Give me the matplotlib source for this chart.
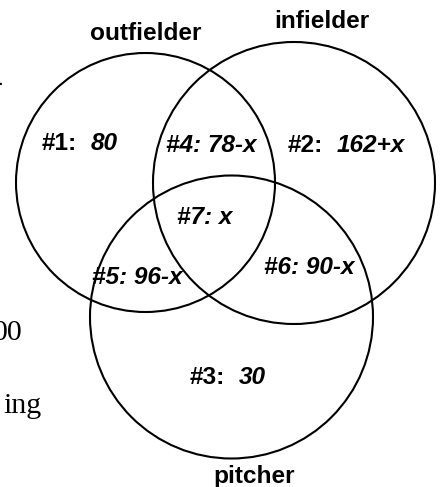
import matplotlib
matplotlib.use("Agg")
import matplotlib.pyplot as plt
from matplotlib.patches import Circle
from matplotlib.offsetbox import TextArea, HPacker, AnnotationBbox

plt.rcParams['font.family'] = ['Liberation Sans', 'DejaVu Sans']

# sets and regions of the diagram
set_names = ['outfielder', 'infielder', 'pitcher']
region_ids = ['#1:', '#2:', '#3:', '#4:', '#5:', '#6:', '#7:']
region_values = ['80', '162+x', '30', '78-x', '96-x', '90-x', 'x']
upright_ids = [True, True, True, False, False, False, False]

# layout in pixels (image coords, y downward)
W, H = 440, 487
circ_xy = [(145.5, 182.5), (294, 183), (231.5, 317)]
circ_r = [129.5, 141, 141.5]
name_xy = [(146, 34), (322, 22), (254, 476)]
region_xy = [(80, 143), (346, 145), (227.5, 377), (211, 145),
             (137.5, 278), (309, 267), (205, 218)]
fs = 17.6

fig = plt.figure(figsize=(W / 100, H / 100), dpi=100)
ax = fig.add_axes([0, 0, 1, 1])
ax.set_xlim(0, W)
ax.set_ylim(H, 0)
ax.axis('off')

for (cx, cy), r in zip(circ_xy, circ_r):
    ax.add_patch(Circle((cx, cy), r, fill=False, lw=1.5, ec='black'))

for name, (x, y) in zip(set_names, name_xy):
    ax.text(x, y, name, ha='center', va='center', fontsize=fs, fontweight='bold')

for rid, val, up, (x, y) in zip(region_ids, region_values, upright_ids, region_xy):
    if up:
        parts = [TextArea(rid, textprops=dict(fontsize=fs, fontweight='bold')),
                 TextArea(val, textprops=dict(fontsize=fs, fontweight='bold', style='italic'))]
        box = HPacker(children=parts, align='baseline', pad=0, sep=10)
    else:
        box = TextArea(rid + ' ' + val,
                       textprops=dict(fontsize=fs, fontweight='bold', style='italic'))
    ab = AnnotationBbox(box, (x, y), xycoords='data', frameon=False,
                        box_alignment=(0.5, 0.5), pad=0)
    ax.add_artist(ab)

# bits of the surrounding page text, cut by the crop
serif = dict(fontsize=21.5, family='Liberation Serif')
ax.text(3, 91, '-', ha='right', va='baseline', **serif)
ax.text(23, 333, '00', ha='right', va='center', **serif)
ax.text(42, 413, 'ing', ha='right', va='baseline', **serif)

fig.savefig('out.png', dpi=100)
